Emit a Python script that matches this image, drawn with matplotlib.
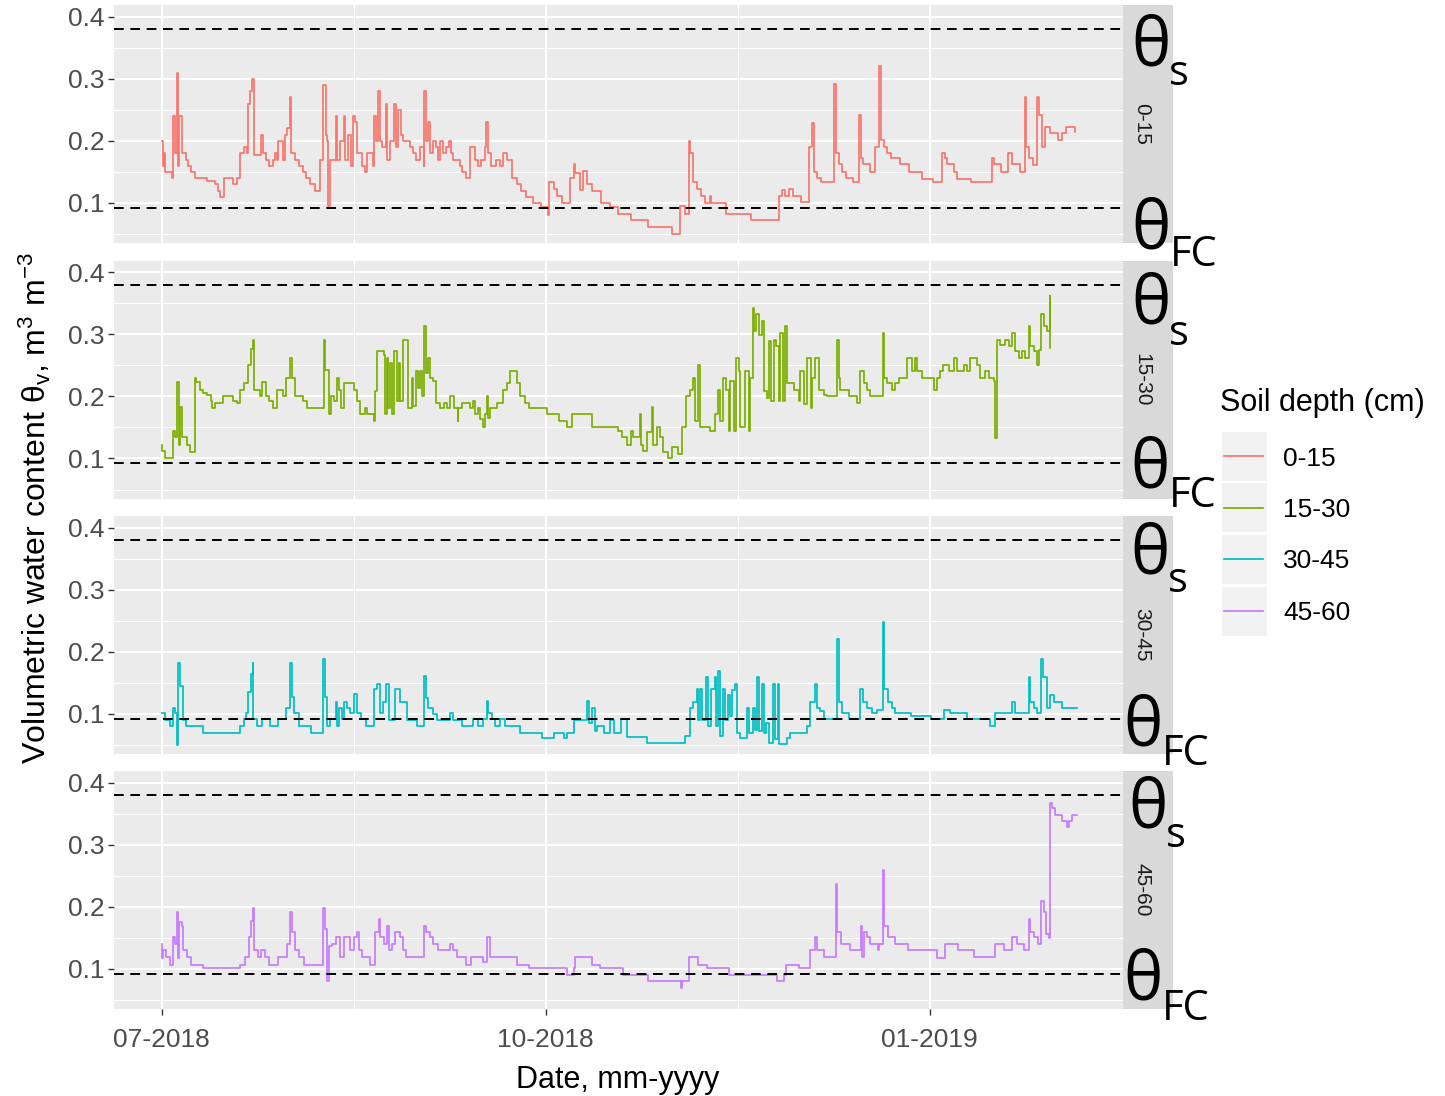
import numpy as np
import pandas as pd
import matplotlib
matplotlib.use('Agg')
import matplotlib.pyplot as plt
import matplotlib.dates as mdates
from matplotlib.lines import Line2D
from matplotlib.patches import Rectangle

plt.rcParams['font.family'] = ['Liberation Sans', 'DejaVu Sans']
plt.rcParams['mathtext.fontset'] = 'custom'
plt.rcParams['mathtext.rm'] = 'Liberation Sans'
plt.rcParams['mathtext.it'] = 'Liberation Sans:italic'
plt.rcParams['mathtext.bf'] = 'Liberation Sans:bold'
plt.rcParams['mathtext.default'] = 'regular'

# ---- data: days since 01-07-2018 where the reading changes, and the reading (m3 m-3)
start = pd.Timestamp('2018-07-01')

days_0_15 = [0.0, 0.3, 0.5, 0.8, 2.6, 2.8, 3.2, 3.8, 4.0, 4.2, 4.8, 5.8, 6.4, 7.0, 8.0, 10.8, 12.8, 13.6, 14.0, 15.0,
             17.0, 18.0, 18.8, 19.7, 20.4, 20.6, 21.2, 21.7, 22.1, 23.8, 24.2, 25.0, 25.7, 26.8, 27.2, 27.6, 28.0, 29.0,
             29.6, 30.0, 30.8, 31.1, 31.9, 32.9, 33.8, 34.7, 35.5, 36.7, 37.9, 38.7, 39.3, 39.7, 39.9, 40.3, 41.7, 42.0,
             42.7, 43.7, 44.0, 44.7, 45.3, 45.9, 46.3, 46.8, 47.9, 48.8, 49.2, 50.7, 50.9, 51.3, 51.9, 52.3, 52.8, 53.7,
             54.0, 54.8, 55.7, 56.1, 56.7, 57.4, 57.9, 59.4, 60.2, 61.0, 62.0, 62.8, 62.9, 63.3, 63.8, 64.2, 65.0, 65.7,
             66.2, 66.8, 67.4, 68.2, 68.9, 69.4, 69.9, 71.4, 72.0, 72.8, 73.8, 75.0, 75.8, 76.4, 77.4, 77.8, 78.2, 79.0,
             80.2, 81.0, 81.9, 82.7, 83.9, 85.1, 86.1, 87.3, 88.9, 90.9, 92.5, 92.9, 93.9, 94.7, 96.0, 97.9, 98.7, 99.1,
             100.2, 101.0, 101.8, 103.1, 105.2, 107.3, 109.3, 112.4, 116.4, 122.3, 124.3, 125.3, 126.3, 126.6, 127.4,
             128.3, 129.1, 130.2, 131.3, 131.7, 135.2, 141.3, 147.9, 148.5, 149.4, 150.2, 151.2, 153.1, 155.2, 155.8,
             156.2, 156.9, 157.9, 161.0, 161.5, 162.3, 163.1, 164.0, 165.6, 167.1, 167.6, 168.1, 169.8, 171.0, 171.9,
             172.3, 173.1, 173.8, 174.8, 176.9, 179.0, 182.1, 184.8, 186.9, 187.7, 188.1, 189.8, 190.6, 194.0, 199.0,
             199.4, 201.1, 202.7, 203.6, 205.7, 206.8, 207.1, 207.8, 208.8, 209.7, 210.2, 210.8, 211.7, 212.8, 214.8,
             215.7, 216.7, 218.8]
vwc_0_15 = [0.20, 0.16, 0.18, 0.15, 0.14, 0.24, 0.18, 0.31, 0.16, 0.24, 0.18, 0.17, 0.16, 0.15, 0.14, 0.135, 0.13, 0.12, 0.11, 0.14,
            0.13, 0.14, 0.18, 0.19, 0.18, 0.26, 0.28, 0.30, 0.178, 0.21, 0.18, 0.17, 0.16, 0.17, 0.18, 0.17, 0.20, 0.17,
            0.21, 0.22, 0.27, 0.18, 0.17, 0.16, 0.15, 0.14, 0.13, 0.12, 0.17, 0.29, 0.21, 0.20, 0.095, 0.17, 0.24, 0.17,
            0.20, 0.24, 0.17, 0.21, 0.16, 0.24, 0.23, 0.18, 0.16, 0.15, 0.18, 0.16, 0.24, 0.20, 0.28, 0.20, 0.19, 0.26,
            0.17, 0.20, 0.26, 0.19, 0.25, 0.21, 0.20, 0.19, 0.18, 0.17, 0.19, 0.16, 0.28, 0.20, 0.23, 0.18, 0.20, 0.19,
            0.17, 0.20, 0.18, 0.19, 0.20, 0.18, 0.17, 0.16, 0.15, 0.14, 0.19, 0.17, 0.16, 0.17, 0.19, 0.23, 0.18, 0.16,
            0.17, 0.16, 0.18, 0.17, 0.14, 0.13, 0.12, 0.11, 0.10, 0.094, 0.081, 0.133, 0.122, 0.112, 0.10, 0.14, 0.163, 0.149,
            0.121, 0.152, 0.13, 0.12, 0.10, 0.093, 0.082, 0.073, 0.061, 0.050, 0.095, 0.082, 0.200, 0.180, 0.133,
            0.122, 0.112, 0.100, 0.112, 0.100, 0.082, 0.072, 0.112, 0.121, 0.112, 0.122, 0.112, 0.101, 0.190, 0.229,
            0.150, 0.140, 0.133, 0.291, 0.180, 0.162, 0.150, 0.140, 0.133, 0.241, 0.173, 0.162, 0.150, 0.190, 0.320,
            0.201, 0.190, 0.180, 0.172, 0.162, 0.150, 0.139, 0.133, 0.180, 0.172, 0.162, 0.150, 0.139, 0.133, 0.172,
            0.162, 0.150, 0.180, 0.162, 0.150, 0.270, 0.190, 0.172, 0.161, 0.270, 0.241, 0.190, 0.222, 0.212, 0.201,
            0.212, 0.222, 0.215]

days_15_30 = [0.0, 0.1, 0.8, 2.8, 3.2, 3.8, 4.2, 4.4, 5.0, 6.0, 6.8, 7.9, 8.3, 9.1, 10.0, 10.8, 11.8, 12.0, 12.8, 14.8,
              17.2, 18.0, 18.8, 19.8, 20.8, 21.4, 21.8, 22.2, 23.6, 24.0, 25.0, 25.8, 26.8, 27.6, 29.0, 29.8, 30.8, 31.2,
              32.0, 33.8, 34.8, 38.8, 39.2, 40.2, 40.5, 41.2, 42.0, 42.6, 43.0, 43.7, 46.0, 46.8, 47.6, 48.8, 49.2, 50.8,
              51.2, 51.7, 53.2, 53.6, 54.0, 54.3, 54.7, 55.2, 55.6, 56.4, 56.8, 57.1, 57.9, 59.1, 59.9, 60.3, 61.0, 61.5,
              61.9, 62.3, 62.9, 63.4, 63.9, 64.3, 65.1, 65.8, 66.7, 67.7, 68.3, 69.1, 70.1, 70.9, 71.1, 71.9, 73.9, 74.7,
              75.1, 75.9, 76.3, 77.1, 77.5, 77.9, 78.3, 78.7, 80.3, 81.9, 82.7, 83.5, 85.1, 85.9, 87.1, 87.9, 92.3, 95.1,
              97.1, 98.3, 103.1, 109.4, 110.2, 111.4, 112.4, 113.0, 114.5, 114.8, 115.4, 116.2, 117.4, 117.8, 118.6,
              119.4, 120.2, 121.4, 122.2, 123.8, 124.6, 125.7, 126.6, 127.3, 127.8, 128.5, 129.0, 131.4, 132.6, 133.4,
              133.8, 134.6, 135.3, 135.8, 136.2, 137.0, 137.6, 138.2, 138.6, 139.8, 140.6, 141.0, 141.6, 141.9, 142.4,
              143.2, 143.8, 144.2, 145.0, 145.4, 146.0, 146.6, 147.2, 147.8, 148.2, 148.8, 149.4, 149.8, 151.4, 152.6,
              153.0, 153.8, 154.6, 155.5, 155.8, 156.6, 157.4, 158.6, 159.4, 161.8, 162.2, 162.6, 164.6, 166.6, 167.4,
              168.2, 169.0, 169.6, 172.8, 173.1, 173.8, 175.0, 175.8, 176.6, 178.6, 179.8, 180.5, 180.9, 182.2, 185.0,
              185.8, 186.5, 187.3, 188.5, 189.7, 190.5, 192.1, 192.9, 193.7, 195.3, 196.1, 197.3, 198.1, 199.3, 199.7,
              200.0, 200.9, 202.1, 202.9, 203.7, 204.5, 205.3, 206.1, 206.9, 207.7, 208.1, 208.9, 209.7, 210.1, 210.7,
              211.3, 212.1, 212.8, 212.9]
vwc_15_30 = [0.122, 0.112, 0.100, 0.144, 0.134, 0.223, 0.122, 0.183, 0.134, 0.122, 0.110, 0.230, 0.223, 0.211, 0.206, 0.203, 0.193, 0.182, 0.190, 0.201,
             0.193, 0.190, 0.211, 0.222, 0.251, 0.276, 0.291, 0.211, 0.201, 0.223, 0.201, 0.193, 0.182, 0.211, 0.201, 0.230, 0.262, 0.230,
             0.201, 0.193, 0.182, 0.291, 0.242, 0.172, 0.201, 0.193, 0.230, 0.211, 0.182, 0.222, 0.211, 0.193, 0.171, 0.182, 0.172, 0.160,
             0.209, 0.273, 0.267, 0.171, 0.262, 0.182, 0.254, 0.172, 0.273, 0.193, 0.254, 0.193, 0.291, 0.182, 0.230, 0.184, 0.241, 0.214,
             0.241, 0.201, 0.313, 0.238, 0.262, 0.230, 0.225, 0.190, 0.182, 0.190, 0.182, 0.201, 0.182, 0.160, 0.182, 0.190, 0.182, 0.193,
             0.171, 0.182, 0.163, 0.150, 0.171, 0.201, 0.166, 0.182, 0.190, 0.211, 0.222, 0.241, 0.222, 0.201, 0.190, 0.182, 0.172, 0.161,
             0.150, 0.172, 0.151, 0.144, 0.134, 0.122, 0.144, 0.134, 0.172, 0.122, 0.112, 0.142, 0.183, 0.122, 0.150,
             0.134, 0.110, 0.100, 0.118, 0.107, 0.150, 0.201, 0.211, 0.230, 0.160, 0.251, 0.150, 0.144, 0.171, 0.211,
             0.160, 0.230, 0.211, 0.144, 0.225, 0.144, 0.262, 0.241, 0.150, 0.241, 0.144, 0.230, 0.342, 0.305, 0.332,
             0.299, 0.321, 0.209, 0.198, 0.289, 0.193, 0.291, 0.281, 0.193, 0.302, 0.193, 0.313, 0.222, 0.211, 0.193,
             0.241, 0.187, 0.262, 0.182, 0.230, 0.262, 0.211, 0.203, 0.201, 0.291, 0.230, 0.211, 0.201, 0.190, 0.241,
             0.222, 0.211, 0.201, 0.302, 0.230, 0.222, 0.211, 0.222, 0.230, 0.262, 0.241, 0.262, 0.241, 0.230, 0.211,
             0.230, 0.241, 0.251, 0.241, 0.262, 0.241, 0.251, 0.241, 0.262, 0.251, 0.230, 0.241, 0.230, 0.225, 0.133,
             0.291, 0.283, 0.291, 0.281, 0.302, 0.273, 0.262, 0.273, 0.262, 0.313, 0.281, 0.273, 0.251, 0.275, 0.332,
             0.313, 0.305, 0.361, 0.278]

days_30_45 = [0.0, 0.8, 1.9, 2.8, 3.2, 3.7, 3.9, 4.3, 5.1, 5.9, 9.9, 18.8, 19.8, 20.3, 20.8, 21.4, 21.8, 22.0, 22.8, 24.0,
              26.0, 27.8, 29.8, 30.8, 31.2, 31.8, 32.8, 35.7, 38.6, 39.2, 39.7, 40.4, 41.8, 42.1, 42.5, 43.2, 43.7, 44.5,
              45.2, 46.0, 46.9, 47.7, 48.9, 50.9, 51.7, 52.2, 53.0, 53.8, 54.4, 56.0, 57.2, 58.7, 61.1, 62.9, 63.4, 63.9,
              65.1, 65.9, 69.1, 69.9, 71.9, 74.7, 75.9, 77.1, 77.9, 78.3, 79.1, 79.9, 81.1, 82.3, 85.9, 91.1, 93.9, 96.3,
              97.1, 98.7, 101.9, 102.3, 103.1, 103.9, 104.3, 105.9, 107.5, 108.3, 110.0, 111.4, 116.2, 125.4, 126.5,
              127.3, 128.2, 128.6, 129.0, 129.4, 130.5, 130.8, 131.6, 132.6, 132.9, 133.4, 133.8, 134.4, 135.0, 135.6,
              136.1, 136.6, 137.4, 137.8, 138.6, 140.2, 140.6, 141.6, 142.2, 142.6, 143.0, 143.8, 144.2, 144.8, 145.4,
              146.4, 147.0, 147.6, 148.0, 149.8, 150.6, 154.6, 155.4, 156.6, 157.0, 157.8, 158.6, 161.8, 162.2, 163.0,
              164.6, 167.4, 168.0, 169.0, 170.2, 171.4, 172.8, 173.1, 173.9, 175.0, 175.8, 179.4, 184.2, 187.4, 188.8,
              192.9, 198.5, 199.7, 203.7, 204.5, 207.7, 208.1, 208.9, 209.7, 210.7, 211.2, 212.1, 212.9, 213.7, 215.7,
              219.3]
vwc_30_45 = [0.102, 0.090, 0.080, 0.109, 0.101, 0.050, 0.182, 0.145, 0.090, 0.081, 0.069, 0.081, 0.092, 0.102, 0.136, 0.165, 0.182, 0.092, 0.080, 0.092,
             0.080, 0.092, 0.109, 0.182, 0.128, 0.102, 0.080, 0.069, 0.189, 0.128, 0.080, 0.092, 0.120, 0.081, 0.109, 0.092, 0.120, 0.109,
             0.102, 0.132, 0.102, 0.092, 0.080, 0.141, 0.149, 0.102, 0.120, 0.149, 0.090, 0.141, 0.120, 0.090, 0.080, 0.161, 0.125, 0.109,
             0.100, 0.090, 0.102, 0.090, 0.080, 0.092, 0.080, 0.092, 0.121, 0.102, 0.092, 0.080, 0.092, 0.080, 0.069, 0.061, 0.069, 0.061,
             0.069, 0.090, 0.121, 0.085, 0.109, 0.072, 0.080, 0.069, 0.090, 0.069, 0.092, 0.063, 0.053, 0.064, 0.109,
             0.120, 0.141, 0.090, 0.141, 0.090, 0.160, 0.080, 0.141, 0.160, 0.080, 0.170, 0.064, 0.141, 0.090, 0.130,
             0.096, 0.138, 0.149, 0.069, 0.061, 0.109, 0.069, 0.109, 0.074, 0.160, 0.072, 0.149, 0.069, 0.085, 0.053,
             0.149, 0.059, 0.149, 0.051, 0.061, 0.069, 0.080, 0.120, 0.149, 0.109, 0.104, 0.092, 0.221, 0.120, 0.102,
             0.092, 0.141, 0.120, 0.109, 0.102, 0.107, 0.249, 0.141, 0.120, 0.109, 0.102, 0.097, 0.092, 0.107, 0.102,
             0.092, 0.080, 0.102, 0.120, 0.102, 0.160, 0.120, 0.109, 0.102, 0.189, 0.160, 0.109, 0.130, 0.120, 0.109,
             0.109]

days_45_60 = [0.0, 0.2, 0.4, 1.1, 1.9, 2.8, 3.2, 3.8, 4.0, 4.2, 4.8, 5.2, 6.0, 7.0, 10.0, 18.8, 20.0, 21.0, 21.4, 21.8,
              22.2, 23.0, 23.8, 24.8, 25.8, 28.0, 30.0, 30.8, 31.2, 32.0, 33.0, 34.0, 38.6, 39.2, 39.7, 40.0, 40.8, 41.8,
              42.8, 43.6, 45.2, 46.0, 46.8, 47.2, 48.0, 50.0, 51.2, 52.0, 52.4, 53.2, 54.0, 54.4, 55.2, 56.0, 57.0, 57.9,
              58.6, 62.9, 63.4, 64.2, 65.1, 66.2, 69.0, 69.9, 70.7, 73.0, 74.1, 77.1, 77.9, 78.6, 85.1, 88.0, 97.1, 98.7,
              99.1, 103.1, 105.1, 110.6, 116.6, 124.5, 124.7, 126.4, 128.6, 130.6, 135.8, 147.4, 149.0, 149.6, 152.8,
              155.4, 156.6, 157.0, 158.7, 161.6, 161.9, 162.7, 164.8, 167.5, 167.8, 168.2, 169.0, 169.6, 171.6, 171.8,
              172.7, 173.1, 173.9, 175.8, 178.7, 185.7, 187.7, 190.7, 194.7, 199.7, 201.7, 203.7, 204.9, 206.7, 207.7,
              208.1, 208.9, 209.9, 210.7, 211.3, 211.9, 212.5, 212.7, 213.3, 213.9, 215.7, 216.8, 217.3, 218.0, 219.3]
vwc_45_60 = [0.141, 0.118, 0.130, 0.120, 0.107, 0.152, 0.141, 0.192, 0.118, 0.176, 0.170, 0.130, 0.120, 0.107, 0.101, 0.107, 0.120, 0.152, 0.178, 0.198,
             0.130, 0.120, 0.130, 0.120, 0.107, 0.120, 0.141, 0.192, 0.160, 0.130, 0.120, 0.107, 0.198, 0.165, 0.080, 0.137, 0.141, 0.152,
             0.120, 0.152, 0.130, 0.152, 0.160, 0.130, 0.120, 0.107, 0.160, 0.181, 0.152, 0.141, 0.170, 0.130, 0.141, 0.160, 0.152, 0.130,
             0.120, 0.170, 0.160, 0.152, 0.141, 0.130, 0.141, 0.130, 0.120, 0.107, 0.120, 0.112, 0.152, 0.120, 0.107, 0.101, 0.091, 0.101,
             0.120, 0.107, 0.101, 0.090, 0.080, 0.070, 0.080, 0.120, 0.107, 0.101, 0.090, 0.080, 0.090, 0.107, 0.101,
             0.130, 0.152, 0.130, 0.120, 0.237, 0.160, 0.141, 0.130, 0.170, 0.120, 0.160, 0.152, 0.141, 0.130, 0.141,
             0.259, 0.170, 0.152, 0.141, 0.130, 0.118, 0.141, 0.130, 0.120, 0.141, 0.130, 0.152, 0.141, 0.130, 0.181,
             0.160, 0.152, 0.141, 0.209, 0.192, 0.157, 0.150, 0.367, 0.360, 0.348, 0.339, 0.328, 0.339, 0.348, 0.348]

depths = ['0-15', '15-30', '30-45', '45-60']
series_days = [days_0_15, days_15_30, days_30_45, days_45_60]
series_vwc = [vwc_0_15, vwc_15_30, vwc_30_45, vwc_45_60]
colours = ['#F8766D', '#7CAE00', '#00BFC4', '#C77CFF']

theta_s = 0.38     # saturation
theta_fc = 0.092   # field capacity

# ---- layout (pixels of a 1445 x 1096 canvas)
W, H = 1445, 1096
fig = plt.figure(figsize=(W / 100, H / 100), dpi=100)


def fx(x):
    return x / W


def fy(y):
    return 1 - y / H


left, right = 114, 1123
panel_tops = [5, 260.5, 516, 771]
panel_h = 238

# theta label positions: (theta x, theta baseline, sub x, sub baseline)
theta_s_pos = [(1131, 65, 1169, 85), (1131, 323, 1169, 345), (1130, 573, 1168, 592), (1128, 828, 1166, 847)]
theta_fc_pos = [(1131, 248, 1170, 266), (1130, 488, 1169, 507), (1123, 745, 1162, 765), (1123, 1000, 1162, 1020)]

x_lo = start + pd.Timedelta(days=-11.4)
x_hi = start + pd.Timedelta(days=230.3)
major_dates = pd.to_datetime(['2018-07-01', '2018-10-01', '2019-01-01'])
minor_dates = pd.to_datetime(['2018-08-16', '2018-11-16'])

axes = []
for i in range(4):
    top = panel_tops[i]
    ax = fig.add_axes([fx(left), fy(top + panel_h), (right - left) / W, panel_h / H])
    axes.append(ax)
    ax.set_facecolor('#EBEBEB')
    for s in ax.spines.values():
        s.set_visible(False)

    dates = start + pd.to_timedelta(series_days[i], unit='D')
    ax.step(dates, series_vwc[i], where='post', color=colours[i], lw=1.25, zorder=3)
    ax.axhline(theta_s, color='black', ls=(0, (5, 3.4)), lw=1.4, zorder=4)
    ax.axhline(theta_fc, color='black', ls=(0, (5, 3.4)), lw=1.4, zorder=4)

    ax.set_xlim(x_lo, x_hi)
    ax.set_ylim(0.0355, 0.419)
    ax.set_yticks([0.1, 0.2, 0.3, 0.4])
    ax.set_yticklabels(['0.1', '0.2', '0.3', '0.4'])
    ax.set_yticks([0.05, 0.15, 0.25, 0.35], minor=True)
    ax.set_xticks(major_dates)
    ax.set_xticks(minor_dates, minor=True)
    ax.xaxis.set_major_formatter(mdates.DateFormatter('%m-%Y'))
    ax.grid(which='major', color='white', lw=1.45)
    ax.grid(which='minor', color='white', lw=0.75)
    ax.set_axisbelow(True)
    ax.tick_params(which='major', direction='out', length=4, width=1.0, color='#333333',
                   labelcolor='#4D4D4D', labelsize=19, pad=2.5)
    ax.tick_params(which='minor', length=0)
    if i < 3:
        ax.tick_params(axis='x', which='both', length=0, labelbottom=False)
    else:
        ax.tick_params(axis='x', pad=10)

    # facet strip
    fig.add_artist(Rectangle((fx(right), fy(top + panel_h)), 50 / W, panel_h / H,
                             transform=fig.transFigure, facecolor='#D9D9D9', edgecolor='none'))
    fig.text(fx(1142), fy(top + panel_h / 2), depths[i], rotation=-90, fontsize=15,
             color='#1A1A1A', ha='center', va='center')

    # theta annotations
    tx, tb, sx, sb = theta_s_pos[i]
    fig.text(fx(tx), fy(tb), 'θ', fontsize=48, family=['Open Sans', 'DejaVu Sans'], va='baseline', ha='left')
    fig.text(fx(sx), fy(sb), 's', fontsize=30, family=['Open Sans', 'DejaVu Sans'], va='baseline', ha='left')
    tx, tb, sx, sb = theta_fc_pos[i]
    fig.text(fx(tx), fy(tb), 'θ', fontsize=48, family=['Open Sans', 'DejaVu Sans'], va='baseline', ha='left')
    fig.text(fx(sx), fy(sb), 'FC', fontsize=30, family=['Open Sans', 'DejaVu Sans'], va='baseline', ha='left')

# axis titles
fig.text(fx(618), fy(1088), 'Date, mm-yyyy', fontsize=22, ha='center', va='baseline')
fig.text(fx(35), fy(508), 'Volumetric water content θ$_v$, m$^3$ m$^{-3}$', fontsize=23,
         rotation=90, ha='center', va='center')

# legend
fig.text(fx(1220), fy(411), 'Soil depth (cm)', fontsize=22, ha='left', va='baseline')
key_tops = [432, 483.5, 535, 586.5]
for i in range(4):
    kt = key_tops[i]
    fig.add_artist(Rectangle((fx(1222), fy(kt + 49)), 45 / W, 49 / H, transform=fig.transFigure,
                             facecolor='#F2F2F2', edgecolor='none'))
    fig.add_artist(Line2D([fx(1224), fx(1263)], [fy(kt + 24), fy(kt + 24)], transform=fig.transFigure,
                          color=colours[i], lw=1.25))
    fig.text(fx(1283), fy(kt + 24), depths[i], fontsize=19, ha='left', va='center_baseline')

fig.savefig('out.png', dpi=100, facecolor='white')
